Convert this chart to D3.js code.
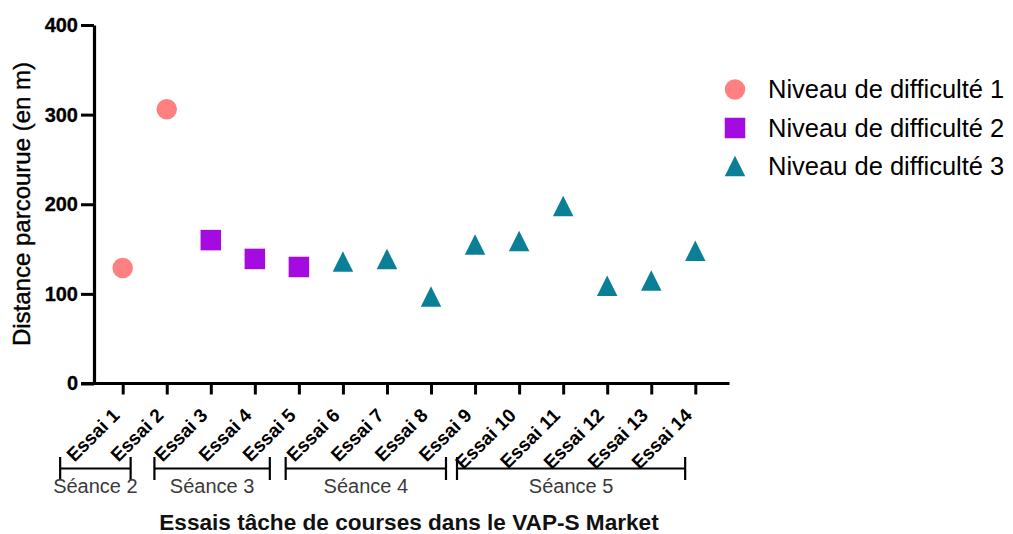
<!DOCTYPE html>
<html><head><meta charset="utf-8">
<script src="https://cdn.jsdelivr.net/npm/d3@7"></script>
<style>
html,body{margin:0;padding:0;background:#fff;}
svg{display:block;font-family:"Liberation Sans",Arial,sans-serif;}
</style></head>
<body>
<svg id="chart" width="1013" height="534"></svg>
<script>
// ---- data ----
const essais = ["Essai 1","Essai 2","Essai 3","Essai 4","Essai 5","Essai 6","Essai 7","Essai 8","Essai 9","Essai 10","Essai 11","Essai 12","Essai 13","Essai 14"];
const distances = [129, 306, 160, 139, 130, 136, 139, 97, 155, 159, 198, 109, 115, 148];
const niveaux = [1, 1, 2, 2, 2, 3, 3, 3, 3, 3, 3, 3, 3, 3];
const yTicks = [0, 100, 200, 300, 400];
const legendLabels = ["Niveau de difficulté 1", "Niveau de difficulté 2", "Niveau de difficulté 3"];
const seances = ["Séance 2", "Séance 3", "Séance 4", "Séance 5"];
// bracket extent in essai units (1 = Essai 1)
const seanceStart = [-0.42, 1.72, 4.70, 8.59];
const seanceEnd = [1.18, 4.34, 8.34, 13.77];
const yTitle = "Distance parcourue (en m)";
const xTitle = "Essais tâche de courses dans le VAP-S Market";

// ---- styles ----
const colors = {1: "#FF8080", 2: "#A40BE0", 3: "#0A7F95"};
const svg = d3.select("#chart");

const x = d3.scalePoint().domain(essais).range([122.7, 695.3]);
const xe = d3.scaleLinear().domain([1, 14]).range([122.7, 695.3]);
const y = d3.scaleLinear().domain([0, 400]).range([383.5, 25]);

const axisLeftX = 94;

// y axis
const gy = svg.append("g").attr("transform", `translate(${axisLeftX},0)`)
  .call(d3.axisLeft(y).tickValues(yTicks).tickSize(13).tickSizeOuter(0).tickPadding(3));
gy.attr("font-size", 20).attr("font-family", "Liberation Sans, Arial, sans-serif");
gy.select(".domain").attr("stroke", "#000").attr("stroke-width", 3.2);
gy.selectAll(".tick line").attr("stroke", "#000").attr("stroke-width", 3);
gy.selectAll(".tick text").attr("font-size", 20).attr("font-weight", "bold")
  .attr("fill", "#000").attr("stroke", "#000").attr("stroke-width", 0.3);

// x axis
const gx = svg.append("g").attr("transform", `translate(0,${y(0)})`)
  .call(d3.axisBottom(x).tickSize(11).tickSizeOuter(0).tickFormat(""));
gx.select(".domain").remove();
gx.selectAll(".tick line").attr("stroke", "#000").attr("stroke-width", 3);
svg.append("line").attr("x1", axisLeftX - 13).attr("x2", 729.5)
  .attr("y1", y(0)).attr("y2", y(0)).attr("stroke", "#000").attr("stroke-width", 3.2);

// x tick labels rotated
svg.append("g").selectAll("text").data(essais).join("text")
  .attr("transform", d => `translate(${x(d) - 2},${y(0) + 33}) rotate(-45)`)
  .attr("text-anchor", "end")
  .attr("font-size", 19).attr("font-weight", "bold").attr("fill", "#000")
  .text(d => d);

// séance brackets
const gs = svg.append("g");
const brY = 468.5;
seances.forEach((s, i) => {
  const x1 = xe(seanceStart[i]), x2 = xe(seanceEnd[i]);
  gs.append("line").attr("x1", x1).attr("x2", x2).attr("y1", brY).attr("y2", brY)
    .attr("stroke", "#000").attr("stroke-width", 2.2);
  [x1, x2].forEach(xx => gs.append("line").attr("x1", xx).attr("x2", xx)
    .attr("y1", brY - 11.5).attr("y2", brY + 11.5).attr("stroke", "#000").attr("stroke-width", 2.2));
  gs.append("text").attr("x", (x1 + x2) / 2).attr("y", 493)
    .attr("text-anchor", "middle").attr("font-size", 20).attr("fill", "#3a3a3a").text(s);
});

// axis titles
svg.append("text").attr("transform", `translate(30,204) rotate(-90)`)
  .attr("text-anchor", "middle").attr("font-size", 24).attr("fill", "#000")
  .attr("stroke", "#000").attr("stroke-width", 0.4).text(yTitle);
svg.append("text").attr("x", 409).attr("y", 530)
  .attr("text-anchor", "middle").attr("font-size", 22.6).attr("font-weight", "bold").attr("fill", "#111").text(xTitle);

// markers
const size = 20.5;
function marker(g, lvl, cx, cy) {
  const c = colors[lvl];
  if (lvl === 1) {
    g.append("circle").attr("cx", cx).attr("cy", cy).attr("r", size / 2).attr("fill", c);
  } else if (lvl === 2) {
    g.append("rect").attr("x", cx - size / 2).attr("y", cy - size / 2)
      .attr("width", size).attr("height", size).attr("fill", c);
  } else {
    const h = size;
    g.append("path").attr("d", `M${cx},${cy - h / 2}L${cx + size / 2},${cy + h / 2}L${cx - size / 2},${cy + h / 2}Z`)
      .attr("fill", c);
  }
}
const gm = svg.append("g");
essais.forEach((e, i) => marker(gm, niveaux[i], x(e), y(distances[i])));

// legend
const gl = svg.append("g");
const legY = [89.5, 128, 166];
legendLabels.forEach((l, i) => {
  marker(gl, i + 1, 735, legY[i]);
  gl.append("text").attr("x", 768).attr("y", legY[i] + 8.5)
    .attr("font-size", 25.5).attr("fill", "#000").text(l);
});
</script>
</body></html>
